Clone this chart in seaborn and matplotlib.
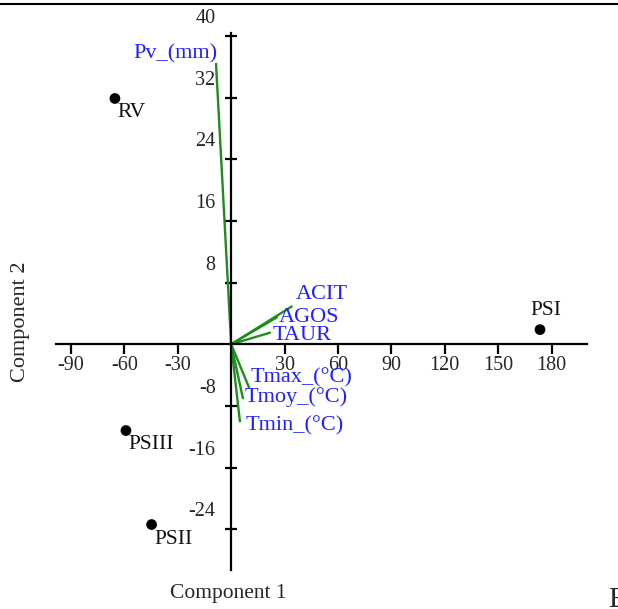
import pandas as pd
import matplotlib.pyplot as plt
import seaborn as sns
from matplotlib.lines import Line2D
from matplotlib.transforms import ScaledTranslation

# Scores des relevés (composantes 1 et 2)
obs_noms = ['RV', 'PSI', 'PSII', 'PSIII']
obs_c1 = [-65.3, 173.5, -44.7, -59.1]
obs_c2 = [31.9, 1.9, -23.4, -11.2]

# Variables (vecteurs depuis l'origine)
var_noms = ['Pv_(mm)', 'ACIT', 'AGOS', 'TAUR', 'Tmax_(°C)', 'Tmoy_(°C)', 'Tmin_(°C)']
var_c1 = [-8.5, 34.0, 25.7, 21.8, 10.0, 6.6, 4.9]
var_c2 = [36.4, 4.9, 3.5, 1.5, -5.6, -7.0, -10.0]

xticks = [-90, -60, -30, 30, 60, 90, 120, 150, 180]
yticks = [-24, -16, -8, 8, 16, 24, 32, 40]

# décalages des étiquettes (en points)
off_obs = {'RV': (2, -10), 'PSI': (-7, 14), 'PSII': (2, -11), 'PSIII': (2, -10)}
off_var = {'Pv_(mm)': (1, 7), 'ACIT': (3, 9), 'AGOS': (1, 0), 'TAUR': (2, -2),
           'Tmax_(°C)': (1, 7), 'Tmoy_(°C)': (1, 1), 'Tmin_(°C)': (4, -3)}

sns.set_style('white')
plt.rcParams['font.family'] = ['Liberation Serif', 'DejaVu Serif']
plt.rcParams['axes.unicode_minus'] = False

fig = plt.figure(figsize=(6.18, 6.09), dpi=100)
ax = fig.add_axes([56 / 618, 1 - 570 / 609, 531 / 618, 537 / 609])

# lignes des variables
rows = []
for n, a, b in zip(var_noms, var_c1, var_c2):
    rows.append({'var': n, 'c1': 0.0, 'c2': 0.0, 'ordre': 0})
    rows.append({'var': n, 'c1': a, 'c2': b, 'ordre': 1})
df_var = pd.DataFrame(rows)
sns.lineplot(data=df_var, x='c1', y='c2', units='var', estimator=None, sort=False,
             color='#1e8c1e', lw=1.7, ax=ax, legend=False)

df_obs = pd.DataFrame({'c1': obs_c1, 'c2': obs_c2, 'nom': obs_noms})
sns.scatterplot(data=df_obs, x='c1', y='c2', color='black', s=60, edgecolor='none',
                ax=ax, legend=False, zorder=5)

for n, a, b in zip(obs_noms, obs_c1, obs_c2):
    ax.annotate(n, (a, b), xytext=off_obs[n], textcoords='offset points',
                ha='left', va='center', fontsize=15.5, color='#111111')
for n, a, b in zip(var_noms, var_c1, var_c2):
    ha = 'right' if n == 'Pv_(mm)' else 'left'
    ax.annotate(n, (a, b), xytext=off_var[n], textcoords='offset points',
                ha=ha, va='center', fontsize=16, color='#1f1fff')

ax.set_xlim(-98.4, 199.9)
ax.set_ylim(-29.3, 40.4)
for s in ['top', 'right']:
    ax.spines[s].set_visible(False)
for s in ['left', 'bottom']:
    ax.spines[s].set_position(('data', 0))
    ax.spines[s].set_linewidth(1.6)
    ax.spines[s].set_color('black')

ax.set_xticks(xticks)
ax.set_yticks(yticks)
ax.set_xticklabels([str(v) for v in xticks])
ax.set_yticklabels([str(v) for v in yticks])
ax.tick_params(axis='x', bottom=True, direction='out', length=7.5, width=1.6, pad=1,
               labelsize=14.5, color='black')
ax.tick_params(axis='y', left=True, direction='inout', length=8.5, width=1.6, pad=7,
               labelsize=14.5, color='black')
for lab in ax.get_yticklabels():
    lab.set_transform(lab.get_transform() + ScaledTranslation(0, 0.2, fig.dpi_scale_trans))

ax.set_xlabel('Component 1', fontsize=15.5)
ax.set_ylabel('Component 2', fontsize=16)
ax.xaxis.set_label_coords(0.324, -0.043)
ax.yaxis.set_label_coords(-0.066, 0.462)
ax.xaxis.label.set_va('center')
ax.yaxis.label.set_va('center')

# bordure de la page et lettre coupée
fig.add_artist(Line2D([0, 1], [1 - 3.5 / 609] * 2, transform=fig.transFigure,
                      color='black', lw=1.5))
fig.text(608 / 618, 1 - 607 / 609, 'E', fontsize=21, va='baseline', ha='left')

fig.savefig('out.png', dpi=100)
plt.close()
